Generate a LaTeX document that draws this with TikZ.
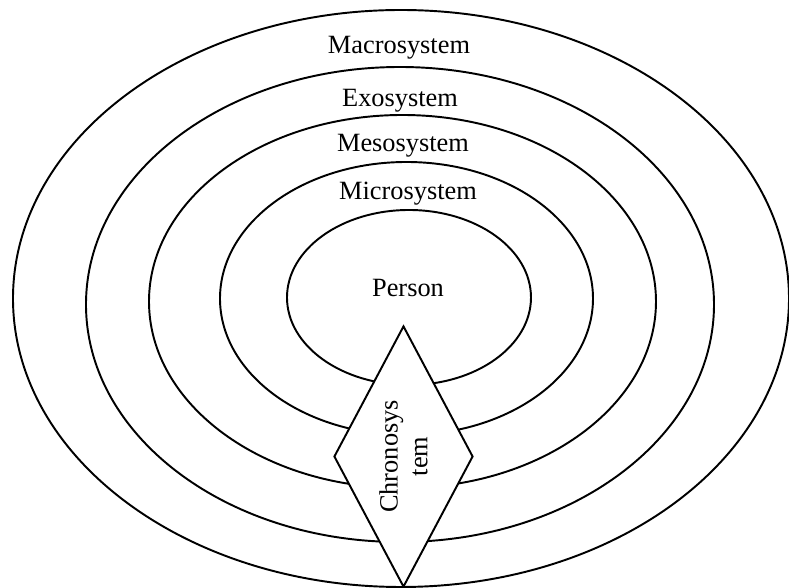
\documentclass[tikz,border=0pt]{standalone}
\usepackage{fontspec}
\setmainfont{Liberation Serif}
\usetikzlibrary{shapes.geometric}
\begin{document}
\begin{tikzpicture}[
  ring/.style={line width=1.1pt},
  lbl/.style={anchor=base,inner sep=0pt,font=\fontsize{15}{17}\selectfont},
  chrono/.style={diamond,draw,fill=white,line width=1.1pt,rotate=90,
    shape aspect=2,inner sep=0pt,minimum width=5.22cm,minimum height=2.78cm,
    align=center,font=\fontsize{15}{17}\selectfont}]
\useasboundingbox (-8,-5.76) rectangle (7.78,6);
% nested systems
\draw[ring] (0.02,0.03) ellipse (7.76 and 5.77);
\draw[ring] (0,-0.09) ellipse (6.28 and 4.75);
\draw[ring] (0.05,-0.03) ellipse (5.07 and 3.73);
\draw[ring] (0.13,0.03) ellipse (3.73 and 2.73);
\draw[ring] (0.18,0.05) ellipse (2.44 and 1.75);
\node[lbl] (macro) at (-0.02,4.92) {Macrosystem};
\node[lbl] (exo) at (0,3.86) {Exosystem};
\node[lbl] (meso) at (0.06,2.96) {Mesosystem};
\node[lbl] (micro) at (0.16,2.0) {Microsystem};
\node[lbl] (person) at (0.16,0.06) {Person};
% time axis
\node[chrono] (chronosys) at (0.07,-3.13) {Chronosys\\tem};
\end{tikzpicture}
\end{document}
